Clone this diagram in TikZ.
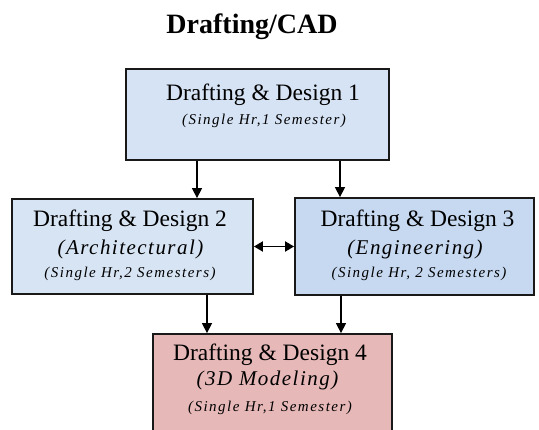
\documentclass[tikz,border=0pt]{standalone}
\usepackage{fontspec}
\setmainfont{Liberation Serif}
\newfontfamily\midit[LetterSpace=7]{Liberation Serif}
\newfontfamily\smallit[LetterSpace=10]{Liberation Serif}
\usetikzlibrary{arrows.meta}
\definecolor{cA}{HTML}{D6E3F4}
\definecolor{cB}{HTML}{D7E4F4}
\definecolor{cC}{HTML}{C6D9F0}
\definecolor{cD}{HTML}{E6B8B7}
\tikzset{
  box/.style={draw=black!90, line width=1.8pt, inner sep=0pt},
  main/.style={inner sep=0pt, font=\fontsize{23.5}{24}\selectfont},
  midl/.style={inner sep=0pt, font=\midit\itshape\fontsize{21}{22}\selectfont},
  smal/.style={inner sep=0pt, font=\smallit\itshape\fontsize{15}{16}\selectfont},
  arr/.style={line width=1.5pt, -{Triangle[width=10pt,length=10pt]}},
  darr/.style={line width=1.8pt, {Triangle[width=10pt,length=9pt]}-{Triangle[width=10pt,length=9pt]}}
}
\begin{document}
\begin{tikzpicture}[x=1pt,y=-1pt]
\useasboundingbox (0,0) rectangle (539,430);
\clip (0,0) rectangle (539,430);
\fill[white] (0,0) rectangle (539,430);
\node[inner sep=0pt, font=\bfseries\fontsize{28}{30}\selectfont] (title) at (252,27) {Drafting/CAD};
\node[box, fill=cA, minimum width=263pt, minimum height=91pt] (b1) at (257.5,114.5) {};
\node[box, fill=cB, minimum width=241pt, minimum height=95pt] (b2) at (132.5,246.5) {};
\node[box, fill=cC, minimum width=239pt, minimum height=97pt] (b3) at (414.5,246.5) {};
\node[box, fill=cD, minimum width=239pt, minimum height=110pt] (b4) at (272.5,389) {};
% texts
\node[main] (b1l1) at (263,94.5) {Drafting \& Design 1};
\node[smal] (b1l2) at (264,121) {(Single Hr,1 Semester)};
\node[main] (b2l1) at (130,221) {Drafting \& Design 2};
\node[midl] (b2l2) at (130.5,249) {(Architectural)};
\node[smal] (b2l3) at (130,274) {(Single Hr,2 Semesters)};
\node[main] (b3l1) at (417.5,221) {Drafting \& Design 3};
\node[midl] (b3l2) at (415,249) {(Engineering)};
\node[smal] (b3l3) at (419,274) {(Single Hr, 2 Semesters)};
\node[main] (b4l1) at (270,355) {Drafting \& Design 4};
\node[midl] (b4l2) at (267.5,380) {(3D Modeling)};
\node[smal] (b4l3) at (270,408) {(Single Hr,1 Semester)};
% connectors
\coordinate (xa) at (197,0);
\coordinate (xb) at (340,0);
\coordinate (xc) at (207,0);
\coordinate (xd) at (341,0);
\draw[arr] (b1.south -| xa) -- (b2.north -| xa);
\draw[arr] (b1.south -| xb) -- (b3.north -| xb);
\draw[arr] (b2.south -| xc) -- (b4.north -| xc);
\draw[arr] (b3.south -| xd) -- (b4.north -| xd);
\draw[darr] (b2.east) -- (b3.west);
\end{tikzpicture}
\end{document}
